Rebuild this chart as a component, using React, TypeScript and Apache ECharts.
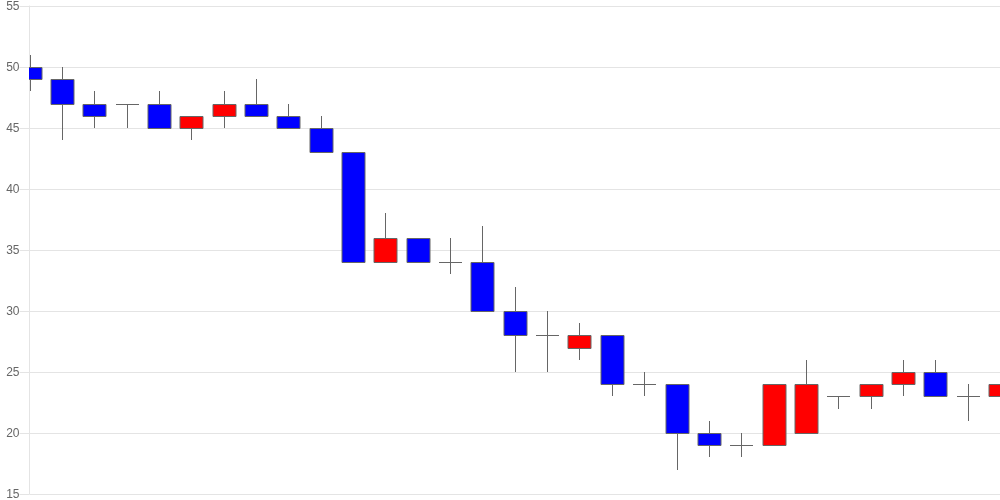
import React, { useEffect, useRef } from "react";
import * as echarts from "echarts";

const categories: string[] = Array.from({ length: 31 }, (_, i) => `D${i + 1}`);
// candle values
const openValues = [50, 49, 47, 47, 47, 45, 46, 47, 46, 45, 43, 34, 36, 34, 34, 30, 28, 27, 28, 24, 24, 20, 19, 19, 20, 23, 23, 24, 25, 23, 23];
const closeValues = [49, 47, 46, 47, 45, 46, 47, 46, 45, 43, 34, 36, 34, 34, 30, 28, 28, 28, 24, 24, 20, 19, 19, 24, 24, 23, 24, 25, 23, 23, 24];
const lowValues = [48, 44, 45, 45, 45, 44, 45, 46, 45, 43, 34, 34, 34, 33, 30, 25, 25, 26, 23, 23, 17, 18, 18, 19, 20, 22, 22, 23, 23, 21, 21];
const highValues = [51, 50, 48, 47, 48, 46, 48, 49, 47, 46, 43, 38, 36, 36, 37, 32, 30, 29, 28, 25, 24, 21, 20, 24, 26, 23, 24, 26, 26, 24, 24];
const yTicks = { min: 15, max: 55, interval: 5 };

const UP = "#ff0000";
const DOWN = "#0000ff";
const EDGE = "#666";

export default function App() {
  const ref = useRef<HTMLDivElement>(null);
  useEffect(() => {
    if (!ref.current) return;
    const chart = echarts.init(ref.current, undefined, { renderer: "svg" });
    const data = openValues.map((o, i) => [i, o, closeValues[i], lowValues[i], highValues[i]]);
    chart.setOption({
      animation: false,
      grid: { left: 29.5, right: 0, top: 6, bottom: 6, containLabel: false },
      xAxis: {
        type: "category",
        data: categories,
        boundaryGap: false,
        axisLabel: { show: false },
        axisTick: { show: false },
        axisLine: { show: false },
        splitLine: { show: false },
      },
      yAxis: {
        type: "value",
        min: yTicks.min,
        max: yTicks.max,
        interval: yTicks.interval,
        axisLine: { show: true, lineStyle: { color: "#e4e4e4" } },
        axisTick: { show: true, length: 10, lineStyle: { color: "#e4e4e4" } },
        axisLabel: { color: "#666", fontSize: 12, fontFamily: "Liberation Sans, Arial, sans-serif", margin: 10 },
        splitLine: { show: true, lineStyle: { color: "#e4e4e4" } },
      },
      series: [
        {
          type: "custom",
          clip: true,
          data,
          encode: { x: 0, y: [1, 2, 3, 4] },
          renderItem: (params: any, api: any) => {
            const idx = api.value(0);
            const o = api.value(1);
            const c = api.value(2);
            const l = api.value(3);
            const h = api.value(4);
            const pO = api.coord([idx, o]);
            const pC = api.coord([idx, c]);
            const pL = api.coord([idx, l]);
            const pH = api.coord([idx, h]);
            const x = Math.round(pO[0]) + 0.5;
            const w = 23;
            const top = Math.round(Math.min(pO[1], pC[1])) + 0.5;
            const bot = Math.round(Math.max(pO[1], pC[1])) + 0.5;
            const fill = c > o ? UP : DOWN;
            return {
              type: "group",
              children: [
                {
                  type: "line",
                  shape: { x1: x, y1: Math.round(pH[1]), x2: x, y2: Math.round(pL[1]) },
                  style: { stroke: EDGE, lineWidth: 1 },
                },
                {
                  type: "rect",
                  shape: { x: x - w / 2, y: top, width: w, height: bot - top },
                  style: { fill, stroke: EDGE, lineWidth: 1 },
                },
              ],
            };
          },
        },
      ],
    });
    return () => chart.dispose();
  }, []);
  return <div ref={ref} style={{ position: "fixed", left: 0, top: 0, width: 1000, height: 500 }} />;
}
